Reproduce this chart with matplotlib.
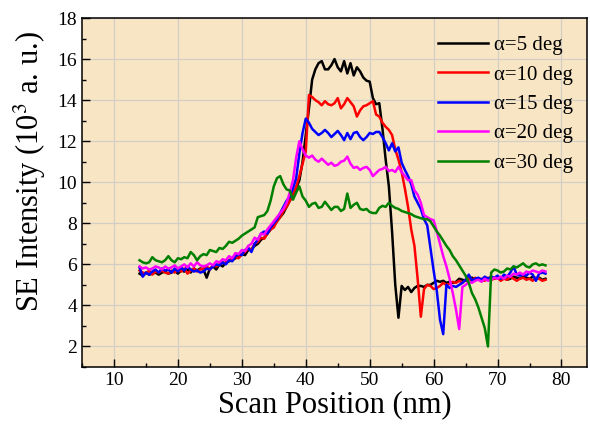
import numpy as np
import matplotlib
matplotlib.use("Agg")
import matplotlib.pyplot as plt
from matplotlib.ticker import MultipleLocator

plt.rcParams['font.family'] = ['Liberation Serif', 'DejaVu Serif']
plt.rcParams['mathtext.fontset'] = 'stix'

# scan positions, 14.0 .. 77.5 nm every 0.5 nm
pos = np.arange(14.0, 77.51, 0.5)

a5 = [5.55, 5.45, 5.6, 5.5, 5.55, 5.6, 5.5, 5.6, 5.65, 5.55,
      5.6, 5.7, 5.55, 5.7, 5.65, 5.75, 5.6, 5.8, 5.7, 5.8,
      5.75, 5.35, 5.8, 5.9, 5.75, 6.0, 5.9, 6.1, 6.15, 6.2,
      6.3, 6.35, 6.5, 6.45, 6.7, 6.75, 6.9, 7.0, 7.2, 7.3,
      7.5, 7.7, 7.9, 8.1, 8.3, 8.5, 8.8, 9.1, 9.4, 9.7,
      10.1, 11.0, 12.3, 13.6, 15.0, 15.5, 15.8, 15.9, 15.5, 15.5,
      15.7, 16.0, 15.6, 15.4, 15.9, 15.3, 15.8, 15.2, 15.6, 15.4,
      15.1, 14.95, 14.9, 14.1, 13.8, 13.85, 12.6, 11.1, 9.8, 7.6,
      5.0, 3.4, 4.95, 4.75, 4.9, 4.65, 4.85, 4.95, 4.95, 4.9,
      5.0, 5.0, 5.1, 5.2, 5.15, 5.2, 5.1, 5.15, 5.1, 5.15,
      5.3, 5.25, 5.2, 5.3, 5.35, 5.25, 5.3, 5.2, 5.35, 5.3,
      5.35, 5.3, 5.4, 5.3, 5.35, 5.25, 5.3, 5.4, 5.35, 5.3,
      5.4, 5.35, 5.3, 5.4, 5.3, 5.35, 5.25, 5.3]

a10 = [5.7, 5.6, 5.55, 5.7, 5.5, 5.65, 5.6, 5.7, 5.6, 5.55,
       5.7, 5.6, 5.75, 5.65, 5.8, 5.55, 5.7, 5.8, 5.65, 5.75,
       5.8, 5.9, 5.75, 5.95, 5.9, 6.0, 6.1, 6.05, 6.2, 6.3,
       6.35, 6.3, 6.5, 6.6, 6.8, 6.7, 7.0, 7.1, 7.3, 7.25,
       7.5, 7.7, 7.8, 8.1, 8.3, 8.6, 8.8, 9.1, 9.4, 9.8,
       10.3, 10.9, 11.5, 14.25, 14.15, 14.0, 13.9, 13.75, 13.95, 13.8,
       13.75, 13.85, 14.1, 13.6, 13.8, 14.1, 13.9, 13.7, 13.2, 13.5,
       13.7, 13.75, 13.85, 13.95, 13.3, 13.2, 12.9, 12.7, 12.55, 12.3,
       11.6, 11.1, 10.5, 9.7, 8.8, 7.7, 6.9, 5.3, 3.45, 4.8,
       5.0, 4.95, 4.8, 4.85, 4.95, 5.1, 5.0, 5.05, 5.15, 5.1,
       5.2, 5.1, 5.25, 5.3, 5.2, 5.35, 5.25, 5.3, 5.2, 5.35,
       5.25, 5.3, 5.35, 5.2, 5.3, 5.25, 5.4, 5.3, 5.2, 5.3,
       5.35, 5.25, 5.3, 5.2, 5.35, 5.3, 5.2, 5.25]

a15 = [5.85, 5.4, 5.6, 5.5, 5.65, 5.75, 5.6, 5.8, 5.7, 5.75,
       5.6, 5.8, 5.65, 5.85, 5.7, 5.9, 5.75, 5.65, 5.7, 5.6,
       5.65, 5.8, 5.75, 5.9, 6.0, 5.95, 6.1, 6.0, 6.2, 6.15,
       6.4, 6.5, 6.45, 6.7, 6.8, 6.6, 7.0, 7.2, 7.5, 7.6,
       7.5, 7.8, 8.0, 8.2, 8.5, 8.8, 9.1, 9.3, 9.7, 10.2,
       11.4, 12.4, 13.1, 12.9, 12.6, 12.45, 12.3, 12.4, 12.55, 12.4,
       12.2, 12.35, 12.5, 12.3, 12.05, 12.4, 12.1, 12.4, 12.45, 12.2,
       12.05, 12.2, 12.4, 12.35, 12.45, 12.45, 12.2, 11.9, 11.55, 11.9,
       11.5, 11.7, 10.95, 10.6, 10.3, 9.9, 9.3, 9.0, 8.7, 8.2,
       7.9, 6.8, 5.7, 4.7, 3.3, 2.6, 5.0, 4.85, 4.95, 4.9,
       5.0, 5.1, 5.25, 5.5, 5.2, 5.3, 5.35, 5.25, 5.4, 5.3,
       5.4, 5.35, 5.45, 5.3, 5.5, 5.4, 5.6, 5.9, 5.5, 5.45,
       5.5, 5.45, 5.6, 5.5, 5.2, 5.55, 5.6, 5.55]

a20 = [5.9, 5.8, 5.85, 5.75, 5.8, 5.9, 5.85, 5.75, 5.9, 5.8,
       5.85, 5.95, 5.8, 5.9, 6.0, 5.85, 6.05, 5.9, 6.1, 5.95,
       5.9, 5.95, 6.05, 5.95, 6.15, 6.1, 6.25, 6.2, 6.4, 6.3,
       6.55, 6.5, 6.7, 6.65, 6.9, 7.0, 7.3, 7.2, 7.5, 7.45,
       7.7, 7.9, 8.1, 8.3, 8.5, 8.7, 9.0, 9.5, 10.1, 11.2,
       12.0, 11.6, 11.3, 11.2, 11.3, 11.1, 11.0, 11.15, 11.0, 10.85,
       10.95, 10.8, 10.85, 11.0, 11.05, 11.25, 10.9, 10.7, 10.75, 10.6,
       10.7, 10.75, 10.6, 10.3, 10.45, 10.6, 10.65, 10.75, 10.55, 10.6,
       10.5, 10.75, 10.5, 10.3, 10.1, 10.1, 9.6, 9.4, 9.0, 8.4,
       8.3, 8.2, 8.15, 7.6, 7.0, 6.4, 5.9, 5.3, 4.6, 3.8,
       2.85, 4.9, 5.0, 5.15, 5.1, 5.2, 5.25, 5.15, 5.3, 5.2,
       5.25, 5.35, 5.3, 5.4, 5.3, 5.45, 5.4, 5.55, 5.5, 5.6,
       5.5, 5.65, 5.6, 5.7, 5.65, 5.6, 5.7, 5.65]

a30 = [6.2, 6.1, 6.05, 6.1, 6.35, 6.2, 6.15, 6.1, 6.2, 6.4,
       6.2, 6.1, 6.3, 6.25, 6.35, 6.3, 6.6, 6.45, 6.2, 6.4,
       6.5, 6.45, 6.7, 6.65, 6.6, 6.8, 6.75, 6.9, 7.1, 7.05,
       7.15, 7.25, 7.4, 7.5, 7.6, 7.7, 7.8, 8.3, 8.35, 8.4,
       8.6, 9.1, 9.8, 10.2, 10.3, 9.9, 9.65, 9.6, 9.15, 9.5,
       9.8, 9.3, 9.1, 8.8, 8.95, 9.0, 8.75, 8.8, 9.05, 8.85,
       8.65, 8.8, 8.8, 8.6, 8.7, 9.45, 8.75, 8.9, 9.0, 8.7,
       8.65, 8.7, 8.55, 8.5, 8.5, 8.75, 8.85, 8.8, 9.0, 8.85,
       8.75, 8.7, 8.6, 8.55, 8.5, 8.45, 8.35, 8.3, 8.25, 8.2,
       8.2, 8.1, 7.85, 7.6, 7.4, 7.15, 6.9, 6.7, 6.4, 6.2,
       5.95, 5.7, 5.45, 5.1, 4.6, 4.3, 3.9, 3.4, 2.9, 2.0,
       5.6, 5.75, 5.7, 5.6, 5.65, 5.8, 5.75, 5.9, 5.85, 5.95,
       6.05, 5.9, 5.85, 6.0, 6.05, 5.95, 6.0, 5.95]

series = [a5, a10, a15, a20, a30]
labels = ["\u03b1=5 deg", "\u03b1=10 deg", "\u03b1=15 deg", "\u03b1=20 deg", "\u03b1=30 deg"]
colors = ["black", "#ff0000", "#0000ff", "#ff00ff", "#008000"]

fig = plt.figure(figsize=(5.9, 4.29), dpi=100)
ax = fig.add_axes([0.139, 0.1445, 0.856, 0.8135])
ax.set_facecolor("#f8e5c4")

for vals, lab, c in zip(series, labels, colors):
    ax.plot(pos, vals, color=c, lw=1.8, label=lab)

ax.set_xlim(5, 84)
ax.set_ylim(1, 18)
ax.set_xticks(range(10, 81, 10))
ax.set_yticks(range(2, 19, 2))
ax.xaxis.set_minor_locator(MultipleLocator(5))
ax.yaxis.set_minor_locator(MultipleLocator(1))
ax.grid(True, which="major", color="#d2cec6", lw=0.9)
ax.set_axisbelow(True)
ax.tick_params(which="both", direction="in", top=False, right=False, labelsize=14)
ax.tick_params(which="major", length=6, width=1)
ax.tick_params(which="minor", length=3, width=1)
for s in ax.spines.values():
    s.set_linewidth(1.1)

ax.set_xlabel("Scan Position (nm)", fontsize=22, labelpad=1)
ax.set_ylabel("SE Intensity (10$^{3}$ a. u.)", fontsize=22)
ax.yaxis.set_label_coords(-0.068, 0.56)

ax.legend(loc="upper right", bbox_to_anchor=(1.008, 1.0), frameon=False, fontsize=15,
          handlelength=2.4, handletextpad=0.3, labelspacing=0.47, borderaxespad=0.45)

fig.savefig("out.png", dpi=100)
